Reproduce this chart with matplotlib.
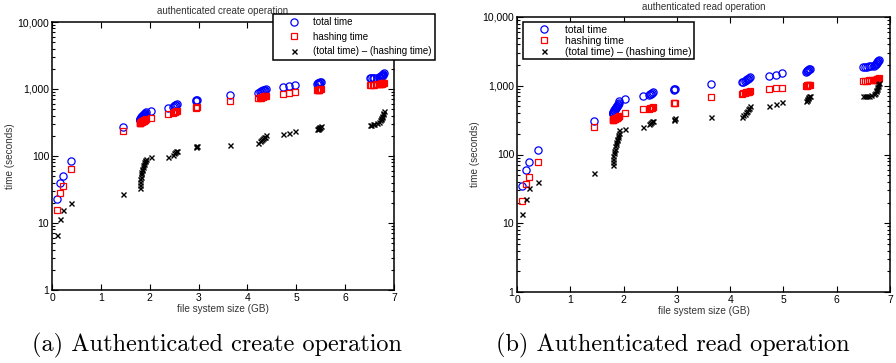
import matplotlib
matplotlib.use('Agg')
import matplotlib.pyplot as plt
from matplotlib.ticker import FixedLocator, FixedFormatter, LogLocator, NullFormatter

# file system size (GB), shared by both runs
fs_size = [0.10, 0.17, 0.22, 0.39,
           1.45,
           1.80, 1.80, 1.81, 1.81, 1.82, 1.82, 1.83, 1.84, 1.85, 1.86, 1.87, 1.88, 1.89, 1.90, 1.91, 1.92,
           2.02, 2.37,
           2.47, 2.50, 2.52, 2.54, 2.55,
           2.94, 2.95, 2.96,
           3.65,
           4.22, 4.25, 4.27, 4.29, 4.31, 4.33, 4.35, 4.37,
           4.73, 4.86, 4.98,
           5.42, 5.44, 5.45, 5.46, 5.47, 5.48, 5.50,
           6.50, 6.53, 6.56, 6.60, 6.65, 6.70, 6.72, 6.73, 6.74, 6.75, 6.76, 6.77, 6.78, 6.79]

# authenticated create (seconds)
create_total = [22.5, 40, 51, 84,
                268,
                343, 349, 355, 361, 367, 373, 379, 386, 393, 399, 406, 413, 421, 429, 438, 447,
                470, 525,
                545, 560, 570, 580, 590,
                660, 675, 690,
                810,
                880, 900, 920, 935, 950, 965, 980, 1000,
                1060, 1100, 1140,
                1200, 1215, 1230, 1240, 1250, 1265, 1280,
                1440, 1450, 1460, 1470, 1480, 1500, 1530, 1550, 1570, 1590, 1610, 1640, 1675, 1710]
create_hash = [15.8, 28.4, 35.6, 64,
               239,
               310, 312, 314, 316, 318, 320, 322, 325, 328, 330, 333, 336, 340, 344, 350, 356,
               375, 427,
               440, 450, 455, 462, 470,
               525, 535, 548,
               665,
               725, 735, 745, 755, 765, 775, 785, 795,
               850, 880, 905,
               950, 960, 970, 975, 980, 990, 1000,
               1150, 1155, 1160, 1165, 1170, 1180, 1190, 1195, 1200, 1205, 1210, 1220, 1230, 1240]
create_diff = [6.7, 11.6, 15.4, 20,
               27,
               33, 37, 41, 45, 49, 53, 57, 61, 65, 69, 73, 77, 81, 85, 88, 91,
               95, 98,
               105, 110, 115, 118, 120,
               135, 140, 142,
               145,
               155, 165, 175, 180, 185, 190, 195, 205,
               210, 220, 235,
               250, 255, 260, 265, 270, 275, 280,
               290, 295, 300, 305, 310, 320, 340, 355, 370, 385, 400, 420, 445, 470]

# authenticated read (seconds)
read_total = [34.4, 59, 79, 118,
              304,
              388, 398, 408, 419, 430, 441, 452, 464, 476, 489, 502, 515, 528, 544, 565, 595,
              634, 702,
              740, 755, 770, 785, 800,
              875, 890, 900,
              1045,
              1120, 1150, 1180, 1210, 1240, 1270, 1300, 1330,
              1400, 1450, 1520,
              1600, 1630, 1650, 1680, 1700, 1730, 1760,
              1880, 1890, 1900, 1910, 1930, 1960, 2000, 2050, 2100, 2150, 2200, 2260, 2320, 2380]
read_hash = [20.8, 36.8, 46.5, 78,
             248,
             318, 320, 322, 324, 326, 328, 330, 333, 336, 339, 342, 345, 348, 352, 358, 366,
             397, 452,
             465, 470, 475, 480, 490,
             555, 560, 565,
             686,
             770, 780, 790, 800, 810, 815, 820, 830,
             890, 915, 940,
             1000, 1005, 1010, 1015, 1020, 1030, 1040,
             1180, 1185, 1190, 1195, 1200, 1210, 1220, 1225, 1230, 1240, 1245, 1255, 1265, 1275]
read_diff = [13.8, 22.3, 32.6, 39.5,
             53,
             70, 78, 86, 95, 104, 113, 122, 131, 140, 150, 160, 170, 180, 192, 207, 229,
             237, 250,
             275, 285, 295, 305, 310,
             320, 330, 335,
             355,
             350, 370, 390, 410, 430, 455, 480, 500,
             510, 535, 580,
             600, 625, 640, 665, 680, 700, 720,
             700, 705, 710, 715, 730, 750, 780, 825, 870, 910, 955, 1005, 1055, 1105]

y_ticks = [1, 10, 100, 1000, 10000]
y_tick_labels = ['1', '10', '100', '1,000', '10,000']
x_ticks = [0, 1, 2, 3, 4, 5, 6, 7]

plt.rcParams['font.family'] = ['Liberation Sans', 'DejaVu Sans']

fig = plt.figure(figsize=(8.96, 3.63), dpi=100)
W, H = 896.0, 363.0


def make_axes(px_left, px_right, px_top, px_bottom):
    return fig.add_axes([px_left / W, 1 - px_bottom / H,
                         (px_right - px_left) / W, (px_bottom - px_top) / H])


def draw(ax, total, hashing, diff, title, title_pad, leg_xy, leg_fs, leg_space, leg_pad):
    ax.plot(fs_size, total, linestyle='none', marker='o', ms=5.2, mfc='none',
            mec='b', mew=0.9, label='total time')
    ax.plot(fs_size, hashing, linestyle='none', marker='s', ms=4.3, mfc='none',
            mec='r', mew=0.9, label='hashing time')
    ax.plot(fs_size, diff, linestyle='none', marker='x', ms=3.6, mec='k',
            mew=1.0, label='(total time) \u2013 (hashing time)')
    ax.set_yscale('log')
    ax.set_xlim(0, 7)
    ax.set_ylim(1, 10000)
    ax.yaxis.set_major_locator(FixedLocator(y_ticks))
    ax.yaxis.set_major_formatter(FixedFormatter(y_tick_labels))
    ax.yaxis.set_minor_locator(LogLocator(base=10, subs=range(2, 10)))
    ax.yaxis.set_minor_formatter(NullFormatter())
    ax.set_xticks(x_ticks)
    ax.tick_params(which='both', direction='in', top=True, right=True,
                   labelsize=7.5, pad=2, width=0.8)
    ax.tick_params(which='major', length=4)
    ax.tick_params(which='minor', length=2)
    for sp in ax.spines.values():
        sp.set_linewidth(1.1)
    ax.set_xlabel('file system size (GB)', fontsize=7.2, labelpad=1, color='#333333')
    ax.set_ylabel('time (seconds)', fontsize=7.2, labelpad=2, color='#333333')
    ax.set_title(title, fontsize=7, pad=title_pad, color='#333333')
    leg = ax.legend(loc='upper left', bbox_to_anchor=(leg_xy[0] / W, 1 - leg_xy[1] / H),
                    bbox_transform=fig.transFigure, borderaxespad=0, fontsize=leg_fs,
                    frameon=True, fancybox=False, framealpha=1, edgecolor='k',
                    handlelength=3.6, handletextpad=0.15, labelspacing=leg_space,
                    borderpad=leg_pad, numpoints=1)
    leg.get_frame().set_linewidth(1.1)


ax1 = make_axes(52, 394, 22, 290)
draw(ax1, create_total, create_hash, create_diff, 'authenticated create operation', 6,
     (273, 14), 7, 0.45, 0.35)

ax2 = make_axes(517, 890, 17, 292)
draw(ax2, read_total, read_hash, read_diff, 'authenticated read operation', 5,
     (523, 22), 7.5, 0.1, 0.25)

fig.text(217 / W, 1 - 345 / H, '(a) Authenticated create operation', family='cmr10',
         fontsize=17.5, ha='center', va='center')
fig.text(673 / W, 1 - 345 / H, '(b) Authenticated read operation', family='cmr10',
         fontsize=17.5, ha='center', va='center')

fig.savefig('out.png', dpi=100)
